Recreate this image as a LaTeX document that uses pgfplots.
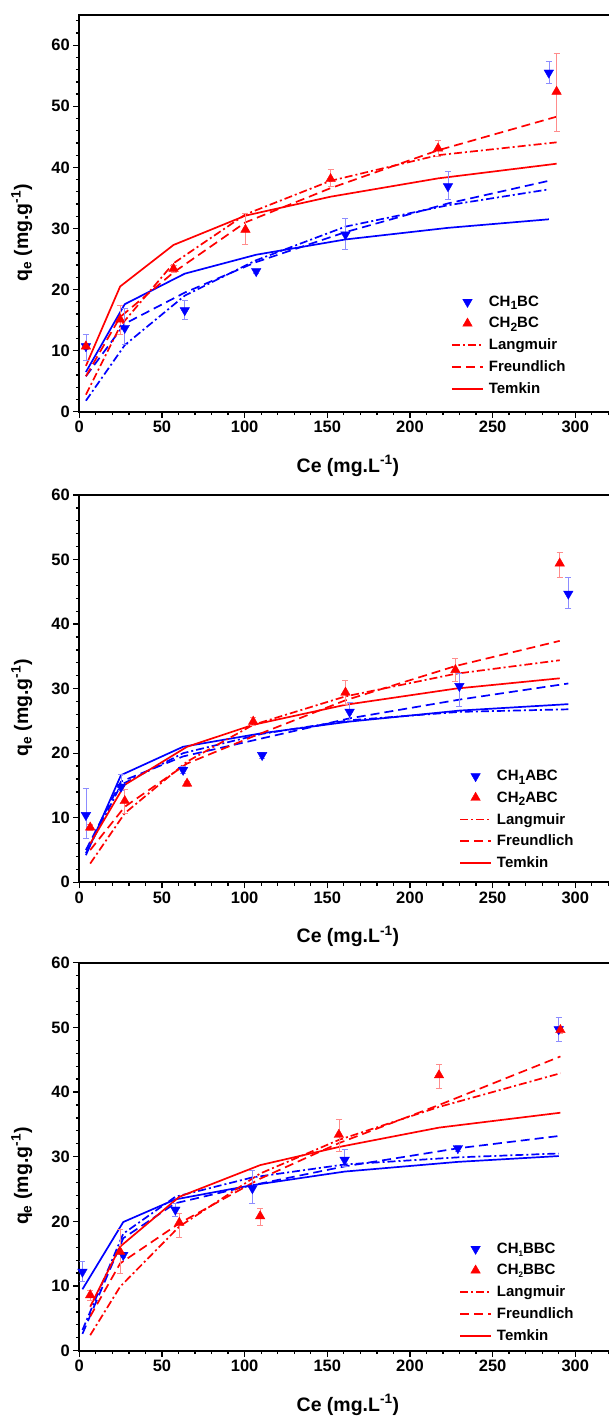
\documentclass[border=0pt]{standalone}
\usepackage{fontspec}
\setmainfont{Liberation Sans}
\usepackage{pgfplots}
\pgfplotsset{compat=1.18}
\definecolor{myblue}{RGB}{0,0,255}
\definecolor{myred}{RGB}{255,0,0}
\newcommand{\sub}[1]{\raisebox{-3.5pt}{\fontsize{12}{12}\selectfont #1}}
\newcommand{\ssub}[1]{\raisebox{-3pt}{\fontsize{8}{8}\selectfont #1}}
\tikzset{
 lang/.style={line width=1.7pt, dash pattern=on 8pt off 3pt on 2pt off 3pt},
 freu/.style={line width=1.7pt, dash pattern=on 9pt off 5pt},
 temk/.style={line width=1.7pt, solid},
}
\pgfplotsset{
 panel/.style={
  scale only axis, width=537.3pt, xmin=0, xmax=325, ymin=0,
  xtick={0,50,...,350}, ytick={0,10,...,70}, minor x tick num=4, minor y tick num=4,
  tick align=outside, xtick pos=left, ytick pos=left,
  major tick length=6pt, minor tick length=3.5pt,
  tick style={black, line width=1.3pt},
  axis line style={line width=1.8pt},
  /pgf/number format/assume math mode=true,
  tick label style={font=\fontsize{16.5}{19}\selectfont\bfseries},
  label style={font=\fontsize{19.5}{23}\selectfont\bfseries},
  xlabel={Ce (mg.L\textsuperscript{-1})},
  ylabel={q\textsubscript{e} (mg.g\textsuperscript{-1})},
  xlabel style={at={(axis description cs:0.5,0)}, anchor=center, yshift=-54pt},
  ylabel style={at={(axis description cs:-0.107,0.45)}, anchor=center},
  legend style={draw=none, fill=none, font=\fontsize{15}{18}\selectfont\bfseries, anchor=north west, inner sep=0pt, column sep=3pt, row sep=5.5pt},
  legend cell align=left,
  legend image code/.code={\draw[##1] (0pt,0pt) -- (31pt,0pt);},
 },
 downm/.style={only marks, mark=triangle*, mark size=5.5pt, color=myblue,
   mark options={rotate=180, fill=myblue, draw=myblue, solid},
   legend image code/.code={\draw[##1] plot coordinates {(15.5pt,0pt)};},
   error bars/.cd, y dir=both, y explicit,
   error bar style={myblue!45, line width=0.6pt},
   error mark options={rotate=90, mark size=3pt, myblue!45, line width=0.6pt}},
 upm/.style={only marks, mark=triangle*, mark size=5.5pt, color=myred,
   mark options={fill=myred, draw=myred, solid},
   legend image code/.code={\draw[##1] plot coordinates {(15.5pt,0pt)};},
   error bars/.cd, y dir=both, y explicit,
   error bar style={myred!45, line width=0.6pt},
   error mark options={rotate=90, mark size=3pt, myred!45, line width=0.6pt}},
}
\begin{document}
\begin{tikzpicture}
\useasboundingbox (0pt,0pt) rectangle (609pt,1417pt);
% ---------------- Panel 1 ----------------
\begin{axis}[panel, at={(79.3pt,1005.3pt)}, height=397pt, ymax=65,
  legend style={at={(axis cs:224.8,19.3)}}]
\addplot[myblue, temk, forget plot] coordinates {(4,6.5) (27.5,17.6) (63.8,22.6) (107,25.7) (161,28.2) (223,30.1) (284,31.5)};
\addplot[myblue, freu, forget plot] coordinates {(4,5.8) (27.5,14.4) (63.8,19.5) (107,24.5) (161,29.4) (223,34.1) (284,37.8)};
\addplot[myblue, lang, forget plot] coordinates {(4,1.8) (27.5,10.9) (63.8,19.0) (107,24.8) (161,30.3) (223,33.8) (284,36.4)};
\addplot[myred, temk, forget plot] coordinates {(4,7.5) (24.7,20.5) (57,27.3) (100.5,32.1) (152,35.2) (217,38.2) (288.7,40.6)};
\addplot[myred, freu, forget plot] coordinates {(4,5.8) (24.7,15.5) (57,22.8) (100.5,31.0) (152,36.6) (217,42.8) (288.7,48.3)};
\addplot[myred, lang, forget plot] coordinates {(4,2.8) (24.7,14.0) (57,24.3) (100.5,32.3) (152,37.8) (217,42.0) (288.7,44.1)};
\addplot[downm] coordinates {
 (4,10.7) += (0,2.0) -= (0,2.3)
 (27.5,13.7) += (0,3.3) -= (0,2.6)
 (63.8,16.6) += (0,1.7) -= (0,1.5)
 (107,23.0) += (0,0.3) -= (0,0.3)
 (161,29.0) += (0,2.6) -= (0,2.4)
 (223,36.9) += (0,2.5) -= (0,2.2)
 (284,55.5) += (0,1.9) -= (0,1.8)};
\addlegendentry{CH\sub{1}BC}
\addplot[upm] coordinates {
 (4,10.7) += (0,0.5) -= (0,0.5)
 (24.7,15.1) += (0,2.3) -= (0,2.5)
 (57,23.4) += (0,0.5) -= (0,0.5)
 (100.5,29.8) += (0,2.7) -= (0,2.4)
 (152,38.1) += (0,1.6) -= (0,1.2)
 (217,43.1) += (0,1.4) -= (0,1.3)
 (288.7,52.4) += (0,6.2) -= (0,6.5)};
\addlegendentry{CH\sub{2}BC}
\addlegendimage{myred, lang}\addlegendentry{Langmuir}
\addlegendimage{myred, freu}\addlegendentry{Freundlich}
\addlegendimage{myred, temk}\addlegendentry{Temkin}
\end{axis}
% ---------------- Panel 2 ----------------
\begin{axis}[panel, at={(79.3pt,534.7pt)}, height=387.3pt, ymax=60,
  legend style={at={(axis cs:229.7,17.7)}}]
\addplot[myblue, temk, forget plot] coordinates {(4,4.2) (25.2,16.6) (62.8,21.0) (110.6,23.1) (163.5,24.9) (229.9,26.6) (295.8,27.6)};
\addplot[myblue, freu, forget plot] coordinates {(4,5.0) (25.2,15.6) (62.8,19.5) (110.6,22.3) (163.5,25.4) (229.9,28.3) (295.8,30.8)};
\addplot[myblue, lang, forget plot] coordinates {(4,4.5) (25.2,15.1) (62.8,20.0) (110.6,23.0) (163.5,25.1) (229.9,26.4) (295.8,26.8)};
\addplot[myred, temk, forget plot] coordinates {(6.6,6.0) (27.5,15.1) (65.2,21.0) (105.2,24.4) (161,27.5) (227.5,30.0) (290.6,31.6)};
\addplot[myred, freu, forget plot] coordinates {(6.6,5.0) (27.5,11.7) (65.2,18.4) (105.2,22.6) (161,28.2) (227.5,33.5) (290.6,37.4)};
\addplot[myred, lang, forget plot] coordinates {(6.6,2.9) (27.5,10.7) (65.2,18.7) (105.2,24.4) (161,28.8) (227.5,32.3) (290.6,34.4)};
\addplot[downm] coordinates {
 (4,10.4) += (0,4.2) -= (0,3.6)
 (25.2,14.8) += (0,2.0) -= (0,0.5)
 (62.8,17.4) += (0,0.5) -= (0,0.5)
 (110.6,19.7) += (0,0.5) -= (0,0.5)
 (163.5,26.4) += (0,1.5) -= (0,1.3)
 (229.9,30.4) += (0,1.9) -= (0,3.1)
 (295.8,44.7) += (0,2.5) -= (0,2.3)};
\addlegendentry{CH\sub{1}ABC}
\addplot[upm] coordinates {
 (6.6,8.5) += (0,0.5) -= (0,0.5)
 (27.5,12.6) += (0,1.8) -= (0,1.9)
 (65.2,15.3) += (0,0.4) -= (0,0.4)
 (105.2,24.9) += (0,0.6) -= (0,0.6)
 (161,29.4) += (0,1.9) -= (0,1.9)
 (227.5,32.9) += (0,1.8) -= (0,1.8)
 (290.6,49.4) += (0,1.8) -= (0,2.1)};
\addlegendentry{CH\sub{2}ABC}
\addlegendimage{myred, lang}\addlegendentry{Langmuir}
\addlegendimage{myred, freu}\addlegendentry{Freundlich}
\addlegendimage{myred, temk}\addlegendentry{Temkin}
\end{axis}
% ---------------- Panel 3 ----------------
\begin{axis}[panel, at={(79.3pt,66.3pt)}, height=388pt, ymax=60,
  legend style={at={(axis cs:229.7,17.0)}}]
\addplot[myblue, temk, forget plot] coordinates {(1.9,9.5) (26.6,19.9) (58.1,23.4) (104.7,25.6) (160.5,27.7) (229,29.2) (290,30.1)};
\addplot[myblue, freu, forget plot] coordinates {(1.9,2.6) (26.6,17.4) (58.1,22.8) (104.7,25.6) (160.5,28.5) (229,31.3) (290,33.2)};
\addplot[myblue, lang, forget plot] coordinates {(1.9,3.2) (26.6,18.1) (58.1,23.8) (104.7,26.8) (160.5,28.8) (229,29.9) (290,30.5)};
\addplot[myred, temk, forget plot] coordinates {(6.6,6.8) (24.7,16.1) (60.5,23.8) (109.4,28.7) (157,31.5) (217.6,34.5) (291,36.8)};
\addplot[myred, freu, forget plot] coordinates {(6.6,5.3) (24.7,13.5) (60.5,19.7) (109.4,26.6) (157,32.1) (217.6,38.0) (291,45.5)};
\addplot[myred, lang, forget plot] coordinates {(6.6,2.4) (24.7,9.9) (60.5,19.2) (109.4,27.4) (157,32.6) (217.6,37.7) (291,42.9)};
\addplot[downm] coordinates {
 (1.9,12.2) += (0,1.7) -= (0,1.4)
 (26.6,14.8) += (0,0.4) -= (0,0.4)
 (58.1,21.8) += (0,1.0) -= (0,1.0)
 (104.7,25.1) += (0,2.8) -= (0,2.3)
 (160.5,29.5) += (0,1.6) -= (0,1.0)
 (229,31.3) += (0,0.4) -= (0,0.4)
 (290,49.7) += (0,1.8) -= (0,1.8)};
\addlegendentry{CH\ssub{1}BBC}
\addplot[upm] coordinates {
 (6.6,8.6) += (0,0.8) -= (0,0.8)
 (24.7,15.3) += (0,3.4) -= (0,3.3)
 (60.5,19.8) += (0,1.4) -= (0,2.2)
 (109.4,20.8) += (0,1.2) -= (0,1.4)
 (157,33.4) += (0,2.4) -= (0,2.6)
 (217.6,42.6) += (0,1.7) -= (0,2.0)
 (291,49.6) += (0,0.5) -= (0,0.5)};
\addlegendentry{CH\ssub{2}BBC}
\addlegendimage{myred, lang}\addlegendentry{Langmuir}
\addlegendimage{myred, freu}\addlegendentry{Freundlich}
\addlegendimage{myred, temk}\addlegendentry{Temkin}
\end{axis}
\end{tikzpicture}
\end{document}
